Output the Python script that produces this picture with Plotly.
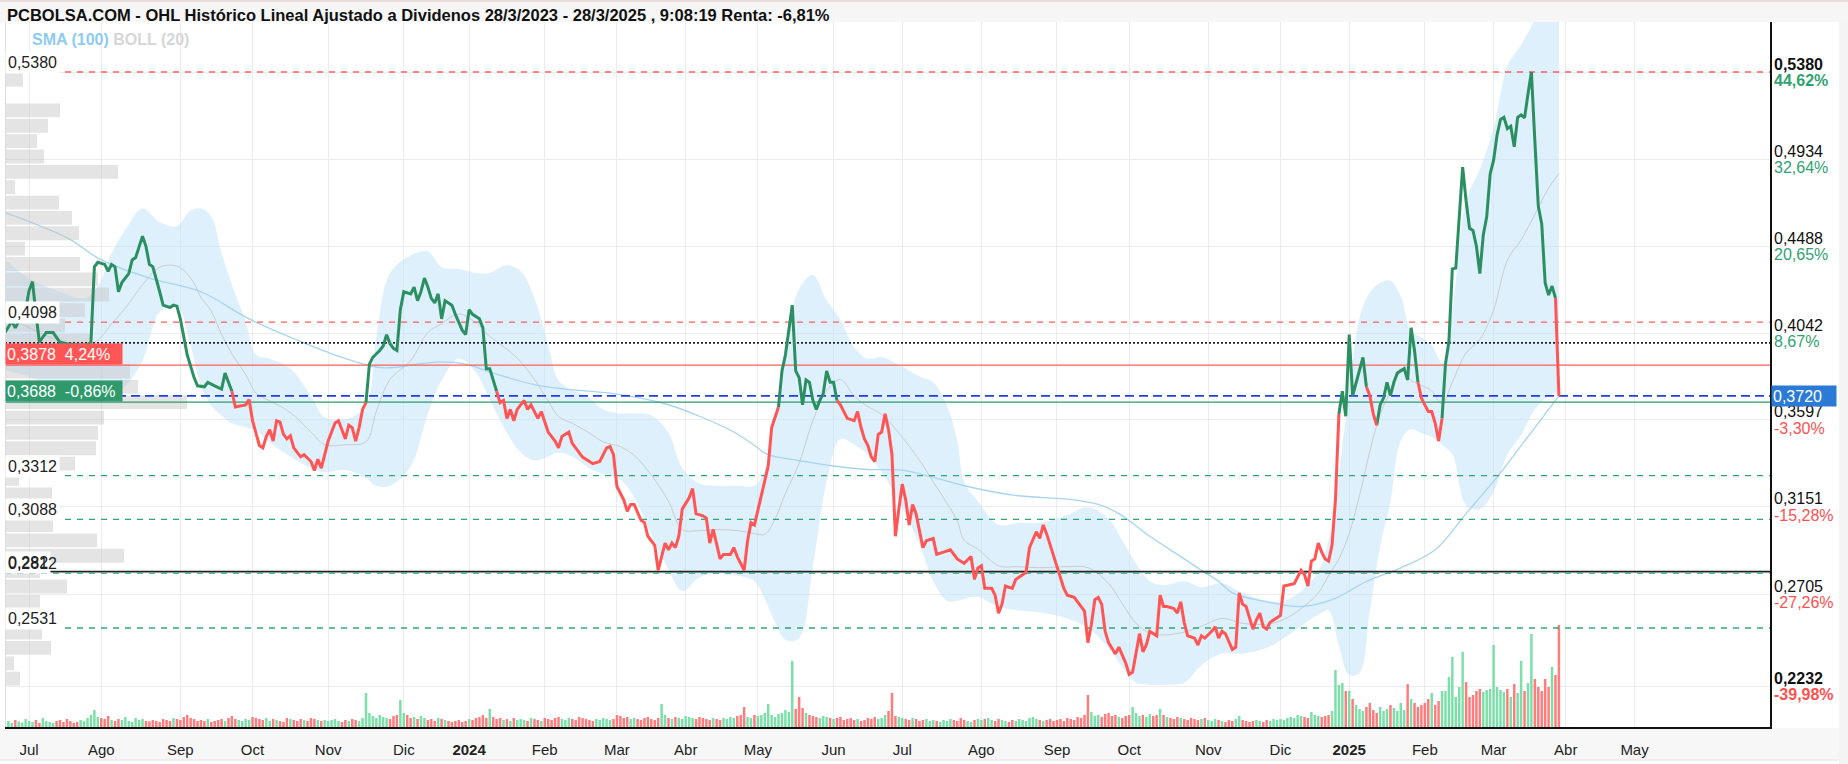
import plotly.graph_objects as go
from bisect import bisect_left

# ------------------------------------------------------------------ data
TITLE = ("PCBOLSA.COM - OHL Histórico Lineal Ajustado a Dividenos "
         "28/3/2023 - 28/3/2025 , 9:08:19 Renta: -6,81%")

# x = trading session number (0 = 3 Jul 2023, first session of "Jul")
price_sessions = [
    -7, -5, -4, -3, -2, -1, 0, 1, 2, 3, 4, 5, 7, 8, 9, 11, 14, 17, 18, 19, 20, 22, 23, 24, 25, 26, 27, 29,
    30, 31, 32, 33, 34, 35, 36, 37, 38, 39, 41, 42, 43, 44, 45, 46, 48, 49, 51, 52, 54, 56, 57, 58, 59,
    60, 63, 64, 65, 67, 68, 69, 70, 71, 72, 73, 74, 75, 76, 77, 78, 79, 80, 82, 83, 84, 85, 86, 87, 89,
    90, 91, 92, 93, 94, 95, 96, 97, 98, 99, 100, 102, 103, 104, 105, 106, 107, 108, 109, 111, 112, 113,
    114, 115, 116, 117, 118, 119, 120, 121, 123, 124, 126, 127, 128, 129, 131, 132, 133, 134, 136, 137,
    138, 139, 140, 141, 142, 144, 145, 146, 148, 149, 151, 153, 154, 155, 157, 158, 161, 164, 166, 168,
    169, 170, 171, 173, 174, 175, 176, 178, 179, 180, 182, 183, 184, 185, 186, 187, 188, 189, 190, 192,
    193, 194, 196, 197, 198, 199, 201, 202, 204, 205, 206, 208, 209, 210, 211, 213, 214, 215, 216, 217,
    218, 219, 220, 221, 222, 223, 224, 225, 226, 227, 228, 229, 230, 231, 232, 233, 234, 235, 236, 238,
    240, 241, 242, 243, 244, 245, 246, 247, 248, 249, 250, 251, 252, 253, 254, 255, 256, 257, 258, 260,
    261, 263, 264, 266, 268, 270, 272, 274, 275, 276, 277, 278, 280, 281, 282, 283, 284, 286, 287, 289,
    290, 291, 293, 294, 295, 296, 298, 299, 300, 301, 302, 304, 307, 308, 309, 310, 311, 312, 313, 314,
    316, 317, 319, 320, 321, 322, 323, 324, 325, 326, 328, 329, 330, 331, 333, 334, 335, 336, 337, 339,
    340, 341, 342, 344, 345, 346, 347, 348, 350, 351, 352, 353, 354, 355, 356, 357, 358, 359, 360, 361,
    363, 364, 365, 368, 370, 371, 372, 373, 374, 375, 376, 377, 378, 379, 380, 381, 382, 383, 384, 385,
    386, 387, 388, 389, 390, 391, 392, 393, 394, 395, 396, 397, 398, 400, 401, 402, 403, 404, 405, 406,
    407, 408, 409, 410, 411, 412, 413, 414, 415, 416, 417, 418, 419, 420, 421, 422, 423, 424, 425, 426,
    427, 428, 429, 430, 431, 432, 433, 434, 435, 436, 437, 438, 439, 440, 441, 442, 443, 444, 445,
]
price_values = [
    0.4045, 0.4103, 0.4069, 0.4103, 0.4115, 0.4162, 0.4260, 0.4306, 0.4140, 0.3995, 0.4022, 0.4045,
    0.4045, 0.4022, 0.3995, 0.3988, 0.3981, 0.3981, 0.3995, 0.4382, 0.4405, 0.4394, 0.4359, 0.4394,
    0.4382, 0.4254, 0.4301, 0.4347,
    0.4417, 0.4429, 0.4487, 0.4538, 0.4487, 0.4394, 0.4382, 0.4324, 0.4254, 0.4185, 0.4173, 0.4185,
    0.4180, 0.4115, 0.4022, 0.3930, 0.3814, 0.3772, 0.3767, 0.3790, 0.3772, 0.3755, 0.3837, 0.3790,
    0.3744,
    0.3663, 0.3674, 0.3702, 0.3593, 0.3466, 0.3454, 0.3512, 0.3547, 0.3489, 0.3593, 0.3586, 0.3523,
    0.3500, 0.3516, 0.3454, 0.3431, 0.3408, 0.3419, 0.3384, 0.3338, 0.3396, 0.3350, 0.3419, 0.3489,
    0.3581,
    0.3593, 0.3547, 0.3500, 0.3570, 0.3558, 0.3489, 0.3558, 0.3651, 0.3686, 0.3883, 0.3918, 0.3953,
    0.3976, 0.4034, 0.3988, 0.3964, 0.3953, 0.4162, 0.4254, 0.4243, 0.4278, 0.4208,
    0.4254, 0.4324, 0.4278, 0.4220, 0.4197, 0.4243, 0.4115, 0.4208, 0.4185, 0.4138, 0.4057, 0.4034,
    0.4162, 0.4138, 0.4115, 0.4069, 0.3860, 0.3860, 0.3744, 0.3686,
    0.3697, 0.3605, 0.3651, 0.3593, 0.3651, 0.3697, 0.3651, 0.3674, 0.3605, 0.3640, 0.3535, 0.3489,
    0.3454, 0.3512, 0.3535, 0.3477, 0.3407, 0.3373, 0.3384, 0.3454,
    0.3461, 0.3419, 0.3256, 0.3187, 0.3129, 0.3164, 0.3164, 0.3083, 0.3071, 0.3001, 0.2955, 0.2827,
    0.2897, 0.2966, 0.2932, 0.2966, 0.2943, 0.3001, 0.3140, 0.3198,
    0.3245, 0.3117, 0.3106, 0.3094, 0.2966, 0.3036, 0.2885, 0.2908, 0.2908, 0.2943, 0.2897, 0.2827,
    0.2978, 0.3071, 0.3059, 0.3210, 0.3280, 0.3361, 0.3558, 0.3616,
    0.3663, 0.3848, 0.3930, 0.4069, 0.4185, 0.3848, 0.3814, 0.3674, 0.3802, 0.3790, 0.3697, 0.3651,
    0.3697, 0.3732, 0.3848, 0.3790, 0.3790, 0.3697, 0.3674, 0.3605,
    0.3593, 0.3640, 0.3558, 0.3500, 0.3466, 0.3407, 0.3384, 0.3523, 0.3535, 0.3628, 0.3547, 0.3419,
    0.3001, 0.3140, 0.3268, 0.3187, 0.3059, 0.3164, 0.3117, 0.2943,
    0.2978, 0.2990, 0.2908, 0.2920, 0.2932, 0.2885, 0.2862, 0.2897, 0.2780, 0.2839, 0.2850, 0.2734,
    0.2734, 0.2699, 0.2607, 0.2653, 0.2746, 0.2734, 0.2780, 0.2804,
    0.2816, 0.2943, 0.3024, 0.2990, 0.3059, 0.3013, 0.2897, 0.2839, 0.2792, 0.2734, 0.2699, 0.2688,
    0.2618, 0.2456, 0.2549, 0.2676, 0.2688, 0.2653, 0.2514, 0.2456,
    0.2398, 0.2433, 0.2351, 0.2293, 0.2305, 0.2398, 0.2502, 0.2409, 0.2444, 0.2514, 0.2491, 0.2699,
    0.2641, 0.2641, 0.2630, 0.2607, 0.2665, 0.2560, 0.2491, 0.2479,
    0.2444, 0.2491, 0.2479, 0.2514, 0.2537, 0.2479, 0.2514, 0.2502, 0.2421, 0.2433, 0.2711, 0.2653,
    0.2641, 0.2583, 0.2525, 0.2572, 0.2607, 0.2537, 0.2525, 0.2560,
    0.2583, 0.2595, 0.2746, 0.2758, 0.2827, 0.2804, 0.2746, 0.2874, 0.2885, 0.2966, 0.2920, 0.2885,
    0.2874, 0.2955, 0.3187, 0.3628, 0.3744, 0.3616, 0.4034, 0.3721,
    0.3790, 0.3860, 0.3918, 0.3767, 0.3721, 0.3628, 0.3570, 0.3674, 0.3709, 0.3790, 0.3721, 0.3790,
    0.3837, 0.3860, 0.3802, 0.4069, 0.3953, 0.3790, 0.3709, 0.3674,
    0.3640, 0.3640, 0.3581, 0.3489, 0.3605, 0.3883, 0.3999, 0.4371, 0.4375, 0.4649, 0.4893, 0.4719,
    0.4579, 0.4568, 0.4487, 0.4347, 0.4545, 0.4638, 0.4858, 0.4928,
    0.5056, 0.5137, 0.5148, 0.5090, 0.5102, 0.4997, 0.5148, 0.5160, 0.5145, 0.5267, 0.5380, 0.5026,
    0.4693, 0.4601, 0.4299, 0.4237, 0.4283, 0.4222, 0.3720,
]
# sessions where the line colour switches (first stretch is green)
trend_switch_sessions = [59, 98, 136, 218, 235, 381, 389, 392, 404, 411, 444]

# Bollinger (20) bands and SMA (100)
bb_sessions = [-7, 0, 8, 16, 20, 24, 28, 33, 38, 43, 47, 50, 53, 56, 59, 63, 66, 70, 76, 82, 86, 92, 98,
               101, 105, 111, 116, 120, 125, 130, 134, 139, 143, 147, 151, 154, 158, 163, 167, 172, 176,
               181, 186, 190, 195, 200, 206, 211, 214, 217, 220, 224, 228, 232, 236, 240, 244, 248, 253,
               259, 263, 267, 270, 272, 276, 282, 288, 294, 302, 308, 314, 318, 322, 326, 330, 336, 341,
               347, 353, 360, 365, 370, 375, 378, 381, 384, 387, 390, 393, 396, 399, 402, 405, 408, 411,
               414, 418, 422, 426, 430, 434, 438, 442, 445]
bb_upper = [0.442, 0.432, 0.426, 0.422, 0.428, 0.445, 0.457, 0.468, 0.461, 0.459, 0.467, 0.468, 0.464,
            0.445, 0.429, 0.410, 0.393, 0.391, 0.386, 0.372, 0.361, 0.360, 0.367, 0.402, 0.435, 0.444,
            0.446, 0.438, 0.437, 0.435, 0.435, 0.439, 0.436, 0.422, 0.398, 0.380, 0.375, 0.371, 0.365,
            0.363, 0.363, 0.362, 0.353, 0.335, 0.327, 0.326, 0.326, 0.326, 0.334, 0.362, 0.397, 0.427,
            0.434, 0.421, 0.411, 0.397, 0.391, 0.392, 0.388, 0.382, 0.379, 0.367, 0.349, 0.328, 0.318,
            0.306, 0.307, 0.307, 0.311, 0.315, 0.309, 0.298, 0.286, 0.277, 0.275, 0.277, 0.274, 0.276,
            0.271, 0.267, 0.267, 0.272, 0.282, 0.298, 0.333, 0.374, 0.412, 0.425, 0.430, 0.431, 0.423,
            0.405, 0.402, 0.398, 0.389, 0.416, 0.472, 0.488, 0.509, 0.541, 0.552, 0.565, 0.585, 0.598]
bb_lower = [0.385, 0.382, 0.376, 0.374, 0.373, 0.373, 0.377, 0.390, 0.415, 0.418, 0.398, 0.377, 0.367,
            0.362, 0.358, 0.356, 0.354, 0.348, 0.341, 0.335, 0.333, 0.334, 0.330, 0.326, 0.326, 0.336,
            0.363, 0.380, 0.391, 0.384, 0.370, 0.353, 0.343, 0.339, 0.341, 0.343, 0.341, 0.335, 0.332,
            0.329, 0.320, 0.301, 0.283, 0.272, 0.279, 0.281, 0.280, 0.277, 0.268, 0.256, 0.247, 0.248,
            0.285, 0.328, 0.350, 0.347, 0.342, 0.333, 0.318, 0.296, 0.277, 0.267, 0.267, 0.268, 0.269,
            0.264, 0.262, 0.261, 0.258, 0.253, 0.243, 0.233, 0.225, 0.224, 0.224, 0.225, 0.234, 0.240,
            0.240, 0.243, 0.248, 0.254, 0.260, 0.262, 0.244, 0.229, 0.230, 0.262, 0.295, 0.318, 0.349,
            0.355, 0.353, 0.351, 0.347, 0.342, 0.316, 0.314, 0.323, 0.342, 0.352, 0.365, 0.372, 0.374]
bb_middle = [0.4135, 0.407, 0.401, 0.398, 0.4005, 0.409, 0.417, 0.429, 0.438, 0.4385, 0.4325, 0.4225,
             0.4155, 0.4035, 0.3935, 0.383, 0.3735, 0.3695, 0.3635, 0.3535, 0.347, 0.347, 0.3485, 0.364,
             0.3805, 0.390, 0.4045, 0.409, 0.414, 0.4095, 0.4025, 0.396, 0.3895, 0.3805, 0.3695, 0.3615,
             0.358, 0.353, 0.3485, 0.346, 0.3415, 0.3315, 0.318, 0.3035, 0.303, 0.3035, 0.303, 0.3015,
             0.301, 0.309, 0.322, 0.3375, 0.3595, 0.3745, 0.3805, 0.372, 0.3665, 0.3625, 0.353, 0.339,
             0.328, 0.317, 0.308, 0.298, 0.2935, 0.285, 0.2845, 0.284, 0.2845, 0.284, 0.276, 0.2655,
             0.2555, 0.2505, 0.2495, 0.251, 0.254, 0.258, 0.2555, 0.255, 0.2575, 0.263, 0.271, 0.280,
             0.2885, 0.3015, 0.321, 0.3435, 0.3625, 0.3745, 0.386, 0.380, 0.3775, 0.3745, 0.368, 0.379,
             0.394, 0.401, 0.416, 0.4415, 0.452, 0.465, 0.4785, 0.486]
sma100_sessions = [-7, 11, 21, 35, 50, 64, 79, 93, 103, 113, 120, 127, 135, 147, 156, 170, 185, 195, 205,
                   211, 215, 224, 234, 244, 254, 263, 273, 287, 302, 311, 317, 326, 336, 341, 346, 350,
                   360, 370, 379, 389, 399, 409, 418, 428, 434, 445]
sma100_values = [0.4660, 0.4531, 0.4417, 0.4324, 0.4254, 0.4115, 0.3999, 0.3906, 0.3864, 0.3883, 0.3895,
                 0.3883, 0.3837, 0.3778, 0.3755, 0.3732, 0.3680, 0.3616, 0.3535, 0.3466, 0.3419, 0.3389,
                 0.3361, 0.3343, 0.3340, 0.3303, 0.3256, 0.3210, 0.3191, 0.3164, 0.3117, 0.3001, 0.2885,
                 0.2827, 0.2770, 0.2711, 0.2665, 0.2641, 0.2676, 0.2769, 0.2839, 0.2932, 0.3117, 0.3326,
                 0.3465, 0.3720]

# daily volume (hundreds of thousands of shares), one value per session from session -7
vol_jun23 = [25, 30, 20, 35, 28, 22, 40]
vol_jul23 = [30, 25, 35, 20, 45, 30, 25, 20, 30, 35, 25, 40, 30, 20, 25, 35, 30, 45, 60, 85, 50]
vol_aug23 = [45, 40, 55, 35, 30, 40, 35, 50, 30, 25, 45, 35, 40, 30, 28, 35, 30, 25, 40, 35, 30, 45, 40]
vol_sep23 = [35, 50, 60, 45, 40, 30, 35, 30, 40, 25, 30, 35, 40, 30, 45, 55, 40, 35, 30, 40, 35]
vol_oct23 = [50, 45, 40, 35, 45, 30, 40, 35, 30, 25, 45, 40, 35, 30, 40, 35, 30, 45, 40, 35, 30, 35]
vol_nov23 = [30, 35, 40, 30, 25, 35, 30, 40, 35, 30, 45, 170, 70, 55, 45, 60, 50, 45, 40, 55, 60, 135]
vol_dec23 = [70, 60, 45, 50, 40, 55, 45, 35, 40, 30, 45, 40, 35, 30, 25, 30, 35, 25, 30]
vol_jan24 = [40, 35, 45, 50, 60, 45, 90, 50, 40, 45, 35, 40, 30, 45, 35, 40, 35, 30, 45, 40, 35, 30]
vol_feb24 = [45, 40, 35, 45, 50, 40, 35, 45, 40, 35, 50, 45, 40, 35, 30, 40, 35, 45, 40, 35, 40]
vol_mar24 = [60, 55, 45, 50, 40, 45, 40, 35, 45, 50, 40, 35, 45, 115, 60, 45, 40, 50, 45, 40]
vol_apr24 = [55, 50, 45, 40, 50, 45, 40, 35, 45, 40, 35, 45, 40, 50, 45, 55, 60, 100, 50, 45, 60]
vol_may24 = [55, 60, 70, 115, 60, 50, 65, 70, 85, 75, 330, 90, 150, 95, 70, 60, 55, 50, 45, 55, 50, 45]
vol_jun24 = [40, 45, 50, 35, 40, 45, 35, 40, 30, 35, 45, 40, 50, 40, 45, 60, 80, 170, 55, 50]
vol_jul24 = [45, 40, 35, 45, 40, 30, 35, 40, 30, 35, 30, 25, 35, 30, 40, 35, 30, 45, 35, 30, 25, 35, 40]
vol_aug24 = [35, 40, 45, 35, 30, 40, 35, 30, 25, 35, 30, 40, 35, 30, 45, 50, 40, 35, 30, 35, 40, 30]
vol_sep24 = [35, 40, 30, 45, 40, 35, 50, 45, 60, 160, 75, 55, 60, 50, 65, 70, 55, 60, 50, 45, 55]
vol_oct24 = [60, 100, 70, 55, 60, 50, 65, 55, 60, 90, 60, 50, 45, 40, 50, 45, 40, 35, 45, 40, 35, 40, 45]
vol_nov24 = [35, 30, 40, 35, 30, 25, 35, 30, 40, 55, 35, 30, 25, 30, 35, 30, 25, 35, 30, 40, 35]
vol_dec24 = [40, 35, 45, 50, 45, 60, 55, 50, 45, 75, 60, 55, 50, 55, 60, 80, 285, 210, 220, 180]
vol_jan25 = [180, 140, 110, 90, 80, 100, 120, 85, 70, 100, 80, 90, 110, 95, 80, 120, 85, 215, 140, 120,
             100, 110]
vol_feb25 = [120, 140, 170, 110, 130, 180, 180, 250, 350, 150, 200, 375, 225, 150, 160, 180, 190, 175,
             185, 190]
vol_mar25 = [410, 200, 185, 175, 190, 150, 215, 170, 330, 180, 220, 465, 240, 200, 180, 240, 200, 300,
             260, 510]
volume_first_session = -7

# volume-at-price profile: 40 bins from the period high down to the period low
profile_top = 0.5380
profile_bin = 0.00787
profile_volume = [18, 0, 55, 43, 32, 39, 113, 10, 54, 67, 74, 20, 75, 93, 104, 80, 60, 87, 100, 125,
                  133, 182, 99, 93, 91, 70, 14, 47, 30, 48, 92, 119, 35, 62, 35, 10, 37, 46, 9, 15]

month_tick_sessions = [0, 21, 44, 65, 87, 109, 128, 150, 171, 191, 212, 234, 254, 277, 299, 320, 343,
                       364, 384, 406, 426, 447, 467]
month_tick_labels = ["Jul", "Ago", "Sep", "Oct", "Nov", "Dic", "<b>2024</b>", "Feb", "Mar", "Abr",
                     "May", "Jun", "Jul", "Ago", "Sep", "Oct", "Nov", "Dic", "<b>2025</b>", "Feb",
                     "Mar", "Abr", "May"]

price_tick_values = [0.5380, 0.4934, 0.4488, 0.4042, 0.3597, 0.3151, 0.2705, 0.2232]
price_tick_labels = ["0,5380", "0,4934", "0,4488", "0,4042", "0,3597", "0,3151", "0,2705", "0,2232"]
pct_tick_labels = ["44,62%", "32,64%", "20,65%", "8,67%", "-3,30%", "-15,28%", "-27,26%", "-39,98%"]

last_price = 0.3720
last_price_label = "0,3720"

level_values = [0.5380, 0.4098, 0.3992, 0.3878, 0.3720, 0.3688, 0.3312, 0.3088, 0.2820, 0.2812, 0.2531]
level_kinds = ["max", "resistance", "start", "box_up", "last", "box_down", "support", "support",
               "black", "support", "support"]
level_texts = ["0,5380", "0,4098", None, "0,3878\u00a0\u00a04,24%", None, "0,3688\u00a0\u00a0-0,86%",
               "0,3312", "0,3088", "0,282", "0,2812", "0,2531"]

# ------------------------------------------------------------------ geometry / style
W, H = 1848, 764
ML, MR, MT, MB = 5, 78, 22, 37
PW, PH = W - ML - MR, H - MT - MB
X_RANGE = [-7.0, 506.4]
Y_RANGE = [0.20236, 0.56362]
FONT = "Liberation Sans, Arial, Helvetica, sans-serif"
UP, DOWN = "#2b8f62", "#ff5555"
VOL_UP, VOL_DOWN = "rgba(110,220,160,0.9)", "rgba(255,110,110,0.9)"


def px_x(p):
    return (p - ML) / PW


def px_y(p):
    return (H - MB - p) / PH


line_styles = {
    "max": dict(color="#ff5c5c", width=1.3, dash="6px,6px"),
    "resistance": dict(color="#ff5c5c", width=1.3, dash="6px,6px"),
    "start": dict(color="#222222", width=1.6, dash="2px,2px"),
    "box_up": dict(color="#ff5c5c", width=1.3),
    "last": dict(color="#1f3fe0", width=1.8, dash="9px,5px"),
    "box_down": dict(color="#2e9a6c", width=1.3),
    "support": dict(color="#2fa775", width=1.3, dash="6px,6px"),
    "black": dict(color="#222222", width=1.6),
}

fig = go.Figure()

# Bollinger band
fig.add_trace(go.Scatter(x=bb_sessions, y=bb_lower, mode="lines", line=dict(width=0, shape="spline"),
                         hoverinfo="skip", showlegend=False))
fig.add_trace(go.Scatter(x=bb_sessions, y=bb_upper, mode="lines", line=dict(width=0, shape="spline"),
                         fill="tonexty", fillcolor="rgba(190,225,250,0.5)", hoverinfo="skip",
                         showlegend=False))
fig.add_trace(go.Scatter(x=bb_sessions, y=bb_middle, mode="lines",
                         line=dict(width=1, color="rgba(200,200,200,0.9)", shape="spline"),
                         hoverinfo="skip", showlegend=False))
fig.add_trace(go.Scatter(x=sma100_sessions, y=sma100_values, mode="lines",
                         line=dict(width=1.3, color="#a6d4f4", shape="spline"),
                         hoverinfo="skip", showlegend=False))

# volume profile on its own horizontal axis
profile_centers = [profile_top - (i + 0.5) * profile_bin for i in range(len(profile_volume))]
fig.add_trace(go.Bar(y=profile_centers, x=profile_volume, orientation="h", width=profile_bin * 0.9,
                     marker=dict(color="rgba(195,195,195,0.45)", line=dict(width=0)),
                     xaxis="x2", yaxis="y", hoverinfo="skip", showlegend=False))

# daily volume
volume_values = (vol_jun23 + vol_jul23 + vol_aug23 + vol_sep23 + vol_oct23 + vol_nov23 + vol_dec23 +
                 vol_jan24 + vol_feb24 + vol_mar24 + vol_apr24 + vol_may24 + vol_jun24 + vol_jul24 +
                 vol_aug24 + vol_sep24 + vol_oct24 + vol_nov24 + vol_dec24 + vol_jan25 + vol_feb25 +
                 vol_mar25)
volume_sessions = [volume_first_session + i for i in range(len(volume_values))]


def incoming_change(s):
    i = bisect_left(price_sessions, s)
    i = min(max(i, 1), len(price_sessions) - 1)
    return price_values[i] - price_values[i - 1]


vol_colors = [VOL_UP if incoming_change(s) >= 0 else VOL_DOWN for s in volume_sessions]
fig.add_trace(go.Bar(x=volume_sessions, y=volume_values, width=0.72,
                     marker=dict(color=vol_colors, line=dict(width=0)),
                     xaxis="x", yaxis="y2", hoverinfo="skip", showlegend=False))

# horizontal level lines
for v, k in zip(level_values, level_kinds):
    fig.add_trace(go.Scatter(x=X_RANGE, y=[v, v], mode="lines", line=line_styles[k],
                             xaxis="x3", yaxis="y3", hoverinfo="skip", showlegend=False))

# price line, coloured by trend stretch
bounds = [price_sessions[0]] + trend_switch_sessions + [price_sessions[-1]]
runs = {UP: ([], []), DOWN: ([], [])}
for k in range(len(bounds) - 1):
    a, b = bounds[k], bounds[k + 1]
    col = UP if k % 2 == 0 else DOWN
    xs, ys = runs[col]
    for s, v in zip(price_sessions, price_values):
        if a <= s <= b:
            xs.append(s)
            ys.append(v)
    xs.append(None)
    ys.append(None)
for col, (xs, ys) in runs.items():
    fig.add_trace(go.Scatter(x=xs, y=ys, mode="lines",
                             line=dict(color=col, width=3),
                             xaxis="x3", yaxis="y3", hoverinfo="skip", showlegend=False,
                             connectgaps=False))

# ------------------------------------------------------------------ annotations
ann = []
ann.append(dict(text=f"<b>{TITLE}</b>", xref="paper", yref="paper", x=px_x(5), y=px_y(15),
                xanchor="left", yanchor="middle", showarrow=False,
                font=dict(family=FONT, size=16.5, color="#111111")))
ann.append(dict(text="<b><span style='color:#8ecbf3'>SMA (100)</span> "
                     "<span style='color:#d6d6d6'>BOLL (20)</span></b>",
                xref="paper", yref="paper", x=px_x(30), y=px_y(39), xanchor="left",
                yanchor="middle", showarrow=False, font=dict(family=FONT, size=16)))

# right-hand price scale: price and % vs last price
for i, (v, pl, pc) in enumerate(zip(price_tick_values, price_tick_labels, pct_tick_labels)):
    bold = i == 0 or i == len(price_tick_values) - 1
    pcol = "#2fa272" if not pc.startswith("-") else "#ff5050"
    ann.append(dict(text=f"<b>{pl}</b>" if bold else pl, xref="paper", yref="y", x=1.0, y=v,
                    xshift=2, yshift=8, xanchor="left", yanchor="middle", showarrow=False,
                    font=dict(family=FONT, size=16, color="#111111")))
    ann.append(dict(text=f"<b>{pc}</b>" if bold else pc, xref="paper", yref="y", x=1.0, y=v,
                    xshift=2, yshift=-8.5, xanchor="left", yanchor="middle", showarrow=False,
                    font=dict(family=FONT, size=16, color=pcol)))

# level labels on the left (the two labels near 0,282 overlap, as in the original)
for v, k, t in zip(level_values, level_kinds, level_texts):
    if t is None:
        continue
    if k in ("box_up", "box_down"):
        ann.append(dict(text=t, xref="paper", yref="y", x=0, y=v, yshift=11, xanchor="left",
                        yanchor="middle", showarrow=False, align="left", width=114, height=18,
                        bgcolor="#ff5555" if k == "box_up" else "#2e9a6c", borderpad=1,
                        font=dict(family=FONT, size=16, color="white")))
    else:
        bg = "white" if k != "support" or abs(v - 0.2812) > 1e-6 else "rgba(0,0,0,0)"
        ann.append(dict(text=t, xref="paper", yref="y", x=0, y=v, yshift=9.5, xanchor="left",
                        yanchor="middle", showarrow=False, bgcolor=bg, borderpad=2,
                        font=dict(family=FONT, size=16, color="#222222")))

# last price box on the right scale
ann.append(dict(text=last_price_label, xref="paper", yref="y", x=1.0, y=last_price, xshift=1,
                xanchor="left", yanchor="middle", showarrow=False, align="left", width=62, height=18,
                bgcolor="#2b7bd6", borderpad=1, font=dict(family=FONT, size=16, color="white")))

shapes = [
    dict(type="rect", xref="paper", yref="paper", x0=px_x(0), x1=px_x(W), y0=px_y(22), y1=px_y(0),
         fillcolor="#f6f6f6", line=dict(width=0), layer="below"),
    dict(type="line", xref="paper", yref="paper", x0=px_x(0), x1=px_x(W), y0=px_y(1), y1=px_y(1),
         line=dict(color="#ecdcdc", width=2), layer="below"),
    dict(type="rect", xref="paper", yref="paper", x0=px_x(0), x1=px_x(W), y0=px_y(760), y1=px_y(728),
         fillcolor="#f7f7f7", line=dict(width=0), layer="below"),
    dict(type="line", xref="paper", yref="paper", x0=px_x(0), x1=px_x(W), y0=px_y(760), y1=px_y(760),
         line=dict(color="#e2e2e2", width=1), layer="below"),
    dict(type="line", xref="paper", yref="paper", x0=px_x(5.5), x1=px_x(5.5), y0=0, y1=1,
         line=dict(color="#dddddd", width=1), layer="above"),
    dict(type="rect", xref="paper", yref="paper", x0=px_x(1839), x1=px_x(W), y0=px_y(H), y1=px_y(22),
         fillcolor="#f4f4f4", line=dict(width=0), layer="below"),
]

fig.update_layout(
    width=W, height=H,
    margin=dict(l=ML, r=MR, t=MT, b=MB, pad=0),
    paper_bgcolor="white", plot_bgcolor="white",
    showlegend=False, hovermode=False, barmode="overlay",
    font=dict(family=FONT, size=15, color="#222222"),
    xaxis=dict(range=X_RANGE, tickmode="array", tickvals=month_tick_sessions,
               ticktext=month_tick_labels, showgrid=True, gridcolor="#ececec", gridwidth=1,
               zeroline=False, showline=True, linecolor="#111111", linewidth=1.5,
               ticks="outside", ticklen=8, tickcolor="rgba(0,0,0,0)",
               tickfont=dict(family=FONT, size=15, color="#222222")),
    yaxis=dict(range=Y_RANGE, side="right", tickmode="array", tickvals=price_tick_values,
               showticklabels=False, showgrid=True, gridcolor="#ececec", gridwidth=1,
               zeroline=False, showline=True, linecolor="#111111", linewidth=1.5, ticks=""),
    xaxis2=dict(overlaying="x", range=[0, PW], visible=False, anchor="y"),
    yaxis2=dict(overlaying="y", range=[0, 3525], visible=False, anchor="x"),
    xaxis3=dict(overlaying="x", range=X_RANGE, visible=False, anchor="y3"),
    yaxis3=dict(overlaying="y", range=Y_RANGE, visible=False, anchor="x3"),
    annotations=ann,
    shapes=shapes,
)

fig.write_html("out.html")
